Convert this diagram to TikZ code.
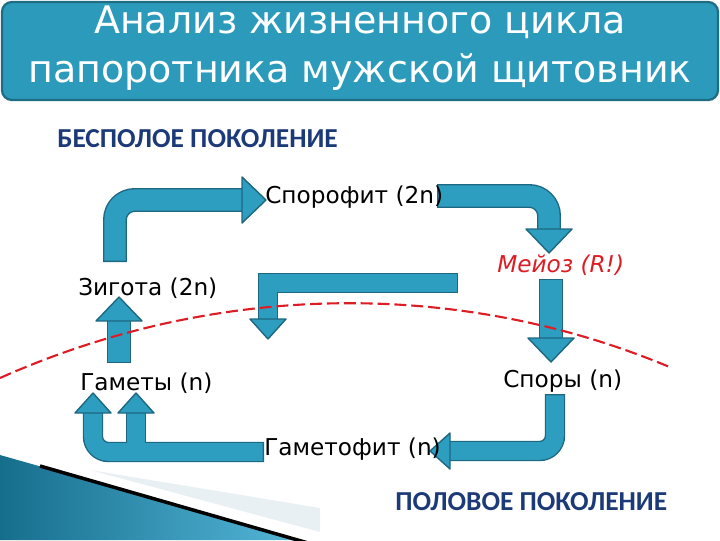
\documentclass[tikz,border=0pt]{standalone}
\usepackage{fontspec}
\setmainfont{DejaVu Sans}
\newfontfamily\headfont{Carlito}
\usepackage{tikz}

\definecolor{arrowfill}{RGB}{46,158,192}
\definecolor{arrowedge}{RGB}{29,104,128}
\definecolor{boxfill}{RGB}{44,155,187}
\definecolor{boxedge}{RGB}{31,108,133}
\definecolor{headblue}{RGB}{28,58,120}
\definecolor{cutred}{RGB}{222,28,36}
\definecolor{decodark}{RGB}{22,110,140}
\definecolor{decolight}{RGB}{84,182,216}
\definecolor{palestrip}{RGB}{232,240,244}

\tikzset{
	stage/.style={font=\fontsize{16.5}{20}\selectfont, inner sep=0pt, anchor=base west},
	gen/.style={font=\headfont\bfseries\fontsize{19.5}{23}\selectfont, text=headblue, inner sep=0pt, anchor=base west},
	ttl/.style={font=\fontsize{27}{32}\selectfont, text=white, inner sep=0pt, anchor=base},
	wideedge/.style={draw=arrowedge, line width=17pt, rounded corners=14pt},
	widefill/.style={draw=arrowfill, line width=15pt, rounded corners=14pt, shorten <=1pt},
	thinedge/.style={draw=arrowedge, line width=14.5pt, rounded corners=11pt},
	thinfill/.style={draw=arrowfill, line width=12.5pt, rounded corners=11pt, shorten <=1pt},
	bighead/.pic={\filldraw[fill=arrowfill, draw=arrowedge, line width=1pt, line join=round] (0,0) -- (-24,23) -- (-24,-23) -- cycle;},
	smallhead/.pic={\filldraw[fill=arrowfill, draw=arrowedge, line width=1pt, line join=round] (0,0) -- (-20,18) -- (-20,-18) -- cycle;},
	cutline/.style={draw=cutred, line width=1.5pt, dash pattern=on 8.5pt off 3.5pt}
}

\begin{document}
\begin{tikzpicture}[x=0.025cm, y=-0.025cm]
	\useasboundingbox (0,0) rectangle (720,540);

	% Title bar
	\filldraw[fill=boxfill, draw=boxedge, line width=1.6pt, rounded corners=7pt] (2,2) rectangle (718,100);

	% Corner decoration
	\fill[palestrip] (90,470) -- (320,508) -- (320,532) -- cycle;
	\shade[left color=decodark, right color=decolight] (0,455) -- (300,540) -- (0,540) -- cycle;
	\draw[black, line width=2.5pt] (40,466) -- (315,545);

	% Arrow ends
	\coordinate (a1) at (115,262);	\coordinate (a2) at (242,200);	\coordinate (a3) at (266,200);
	\coordinate (b1) at (437,196);	\coordinate (b2) at (549,232);	\coordinate (b3) at (549,253);
	\coordinate (c1) at (551,279);	\coordinate (c2) at (551,339);	\coordinate (c3) at (551,362);
	\coordinate (d1) at (458,283);	\coordinate (d2) at (268,321);	\coordinate (d3) at (268,339);
	\coordinate (e1) at (555,394);	\coordinate (e2) at (450,451);	\coordinate (e3) at (430,451);
	\coordinate (f1) at (264,452);	\coordinate (f2) at (93,413);	\coordinate (f3) at (93,393);
	\coordinate (f4) at (136,452);	\coordinate (f5) at (136,413);	\coordinate (f6) at (136,393);
	\coordinate (g1) at (119,363);	\coordinate (g2) at (119,321);	\coordinate (g3) at (119,297);

	% Shafts
	\draw[wideedge] (a1) |- (a2);	\draw[widefill] (a1) |- (a2);
	\draw[wideedge] (b1) -| (b2);	\draw[widefill] (b1) -| (b2);
	\draw[wideedge] (c1) -- (c2);	\draw[widefill] (c1) -- (c2);
	\draw[thinedge, sharp corners] (d1) -| (d2);	\draw[thinfill, sharp corners] (d1) -| (d2);
	\draw[thinedge] (e1) |- (e2);	\draw[thinfill] (e1) |- (e2);
	\draw[thinedge] (f4) -- (f5);	\draw[thinedge] (f1) -| (f2);
	\draw[thinfill] (f4) -- (f5);	\draw[thinfill] (f1) -| (f2);
	\draw[wideedge] (g1) -- (g2);	\draw[widefill] (g1) -- (g2);

	% Heads
	\pic at (a3) {bighead};
	\pic[rotate=-90] at (b3) {bighead};
	\pic[rotate=-90] at (c3) {bighead};
	\pic[rotate=-90] at (d3) {smallhead};
	\pic[rotate=180] at (e3) {smallhead};
	\pic[rotate=90] at (f3) {smallhead};
	\pic[rotate=90] at (f6) {smallhead};
	\pic[rotate=90] at (g3) {bighead};

	% Border between generations
	\coordinate (k0) at (0,378);	\coordinate (k3) at (672,368);
	\draw[cutline] (k0) .. controls (220,280) and (463,280) .. (k3);

	% Nodes
	\node[ttl] (title1) at (360,33) {Анализ жизненного цикла};
	\node[ttl] (title2) at (360,82) {папоротника мужской щитовник};
	\node[gen] (asex) at (57,147) {БЕСПОЛОЕ ПОКОЛЕНИЕ};
	\node[stage] (spor) at (265,203) {Спорофит (2n)};
	\node[stage, text=cutred, font=\fontsize{16.5}{20}\selectfont\itshape] (meioz) at (497,272) {Мейоз (R!)};
	\node[stage] (zig) at (78,295) {Зигота (2n)};
	\node[stage] (gam) at (80,390) {Гаметы (n)};
	\node[stage] (spory) at (503,387) {Споры (n)};
	\node[stage] (gamet) at (264,455) {Гаметофит (n)};
	\node[gen] (sex) at (395,510) {ПОЛОВОЕ ПОКОЛЕНИЕ};
\end{tikzpicture}
\end{document}
